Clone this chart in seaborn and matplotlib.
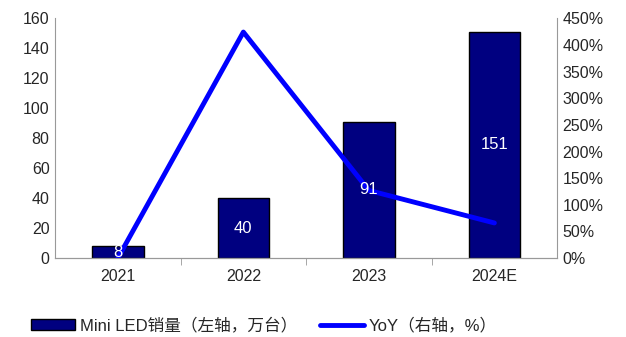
import numpy as np
import matplotlib
matplotlib.use("Agg")
import matplotlib.pyplot as plt
import seaborn as sns
from matplotlib.patches import Patch
from matplotlib.lines import Line2D
from matplotlib.ticker import FuncFormatter

years = ["2021", "2022", "2023", "2024E"]
sales = [8, 40, 91, 151]          # 万台
yoy = [0, 424, 127, 66]           # %

sns.set_style("white")
plt.rcParams["font.family"] = ["Liberation Sans", "Noto Sans CJK SC", "DejaVu Sans"]

fig = plt.figure(figsize=(6.26, 3.37), dpi=100)
ax = fig.add_axes([0.088, 0.234, 0.802, 0.712])

sns.barplot(x=years, y=sales, color="#000080", edgecolor="black", linewidth=1,
            width=0.41, saturation=1, ax=ax)
ax.set_ylim(0, 160)
ax.set_yticks(range(0, 161, 20))
ax.set_xlim(-0.5, 3.5)
ax.set_xlabel("")
ax.set_ylabel("")

ax2 = ax.twinx()
sns.lineplot(x=np.arange(len(years)), y=yoy, color="#0000FF", linewidth=3.5, ax=ax2)
ax2.set_ylim(0, 450)
ax2.set_yticks(range(0, 451, 50))
ax2.yaxis.set_major_formatter(FuncFormatter(lambda v, p: f"{v:.0f}%"))
ax2.set_xlim(-0.5, 3.5)

# bar value labels drawn above the line
for i, v in enumerate(sales):
    ax2.text(i, v / 2, str(v), transform=ax.transData, ha="center", va="center",
             color="white", fontsize=12, zorder=10)

for a in (ax, ax2):
    a.spines["top"].set_visible(False)
    a.spines["left"].set_color("#999999")
    a.spines["right"].set_color("#999999")
    a.spines["bottom"].set_color("#999999")
    a.tick_params(axis="y", length=0, labelsize=11.5, pad=4)
ax2.spines["left"].set_visible(False)
ax.spines["right"].set_visible(False)

ax.set_xticks([0.5, 1.5, 2.5], minor=True)
ax.tick_params(axis="x", which="major", length=0, labelsize=11.5, pad=8)
ax.tick_params(axis="x", which="minor", length=5, color="#999999", direction="out", bottom=True)

handles = [Patch(facecolor="#000080", edgecolor="black", label="Mini LED销量（左轴，万台）"),
           Line2D([0], [0], color="#0000FF", linewidth=3.5, solid_capstyle="round",
                  label="YoY（右轴，%）")]
fig.legend(handles=handles, loc="center", bbox_to_anchor=(0.422, 0.035), ncol=2,
           frameon=False, fontsize=12, handlelength=2.6, handleheight=0.6,
           columnspacing=1.4, handletextpad=0.3)

fig.savefig("out.png", dpi=100)
